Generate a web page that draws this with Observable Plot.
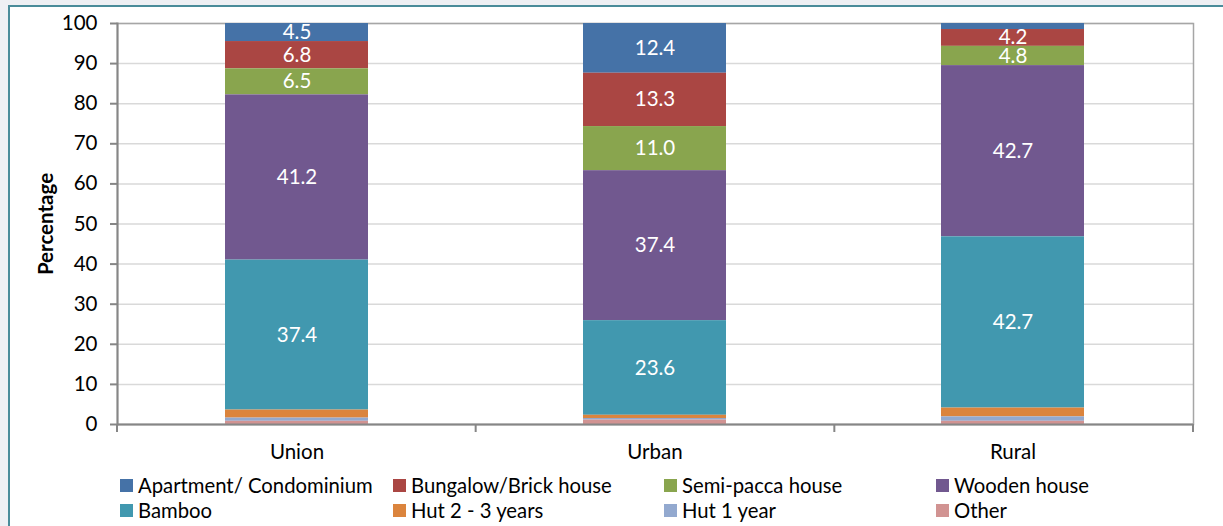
<!DOCTYPE html>
<html>
<head>
<meta charset="utf-8">
<script src="https://cdn.jsdelivr.net/npm/d3@7"></script>
<script src="https://cdn.jsdelivr.net/npm/@observablehq/plot@0.6"></script>
<style>
  html, body { margin: 0; padding: 0; }
  body { width: 1223px; height: 526px; overflow: hidden; position: relative; background: #EEF0F4; font-family: Lato, "Open Sans", sans-serif; }
  #panel { position: absolute; left: 8px; top: 5px; right: 0; bottom: 0; background: #fff; border-left: 2px solid #4A8C9A; border-top: 2px solid #4A8C9A; }
  #chart { position: absolute; left: 0; top: 0; }
  #chart svg { background: transparent; overflow: visible; }
  #chart g[aria-label="y-axis label"] text { font-weight: bold; font-size: 20.5px; }
  .leg { position: absolute; display: flex; align-items: center; font-size: 20.3px; color: #000; white-space: nowrap; }
  .sw { width: 13px; height: 13px; margin-right: 5px; }
</style>
</head>
<body>
<div id="panel"></div>
<div id="chart"></div>
<div id="legend"></div>
<script>
const areas = ["Union", "Urban", "Rural"];
const types = ["Apartment/ Condominium", "Bungalow/Brick house", "Semi-pacca house", "Wooden house", "Bamboo", "Hut 2 - 3 years", "Hut 1 year", "Other"];
const colors = ["#4572A7", "#AA4643", "#89A54E", "#71588F", "#4198AF", "#DB843D", "#93A9CF", "#D19392"];
const unionValues = [4.5, 6.8, 6.5, 41.2, 37.4, 2.0, 0.8, 0.8];
const urbanValues = [12.4, 13.3, 11.0, 37.4, 23.6, 0.8, 0.4, 1.1];
const ruralValues = [1.5, 4.2, 4.8, 42.7, 42.7, 2.2, 1.1, 0.8];
const yTicks = [0, 10, 20, 30, 40, 50, 60, 70, 80, 90, 100];

const series = [unionValues, urbanValues, ruralValues];
const data = [];
areas.forEach((a, i) => types.forEach((t, j) => data.push({area: a, type: t, value: series[i][j]})));
const stackOrder = [...types].reverse();

const W = 1223, H = 470;
const mL = 117, mR = 30, mT = 23, mB = H - 424;
const FS = 20.5;

const boundaryTicks = (index, scales, values, dim) => {
  const g = d3.create("svg:g");
  const n = areas.length;
  const pw = dim.width - dim.marginLeft - dim.marginRight;
  const yb = dim.height - dim.marginBottom;
  for (let i = 0; i <= n; i++) {
    const x = dim.marginLeft + i * pw / n;
    g.append("line").attr("x1", x).attr("x2", x).attr("y1", yb).attr("y2", yb + 8)
      .attr("stroke", "#868686").attr("stroke-width", 2);
  }
  return g.node();
};

const chart = Plot.plot({
  width: W, height: H,
  marginLeft: mL, marginRight: mR, marginTop: mT, marginBottom: mB,
  style: {fontFamily: "Lato, 'Open Sans', sans-serif", fontSize: FS + "px", color: "#000", background: "transparent"},
  x: {domain: areas, paddingInner: 0.6, paddingOuter: 0.3, label: null},
  y: {domain: [0, 100], label: null},
  color: {domain: types, range: colors},
  marks: [
    Plot.gridY(yTicks, {stroke: "#D9D9D9", strokeOpacity: 1, strokeWidth: 1.5}),
    Plot.frame({stroke: "#A6A6A6", strokeWidth: 1.5}),
    Plot.barY(data, Plot.stackY({x: "area", y: "value", fill: "type", order: stackOrder})),
    Plot.text(data, Plot.stackY({x: "area", y: "value", z: "type", order: stackOrder,
      text: d => d.value >= 4 ? d.value.toFixed(1) : "", fill: "white", fontSize: FS})),
    Plot.axisY({ticks: yTicks, tickSize: 7, tickPadding: 13, fontSize: FS, stroke: "#868686", strokeWidth: 2,
      label: "Percentage", labelAnchor: "center", labelArrow: "none", labelOffset: 79}),
    Plot.axisX({tickSize: 0, tickPadding: 20, fontSize: FS}),
    Plot.ruleY([0], {stroke: "#868686", strokeWidth: 2}),
    Plot.frame({anchor: "left", stroke: "#868686", strokeWidth: 2}),
    boundaryTicks
  ]
});
document.getElementById("chart").appendChild(chart);

// legend
const legend = document.getElementById("legend");
const colX = [120, 393, 664, 936];
const rowY = [485, 510];
types.forEach((t, i) => {
  const item = document.createElement("div");
  item.className = "leg";
  item.style.left = colX[i % 4] + "px";
  item.style.top = (rowY[Math.floor(i / 4)] - 12) + "px";
  item.style.height = "24px";
  const sw = document.createElement("span");
  sw.className = "sw";
  sw.style.background = colors[i];
  const tx = document.createElement("span");
  tx.textContent = t;
  item.appendChild(sw);
  item.appendChild(tx);
  legend.appendChild(item);
});
</script>
</body>
</html>
